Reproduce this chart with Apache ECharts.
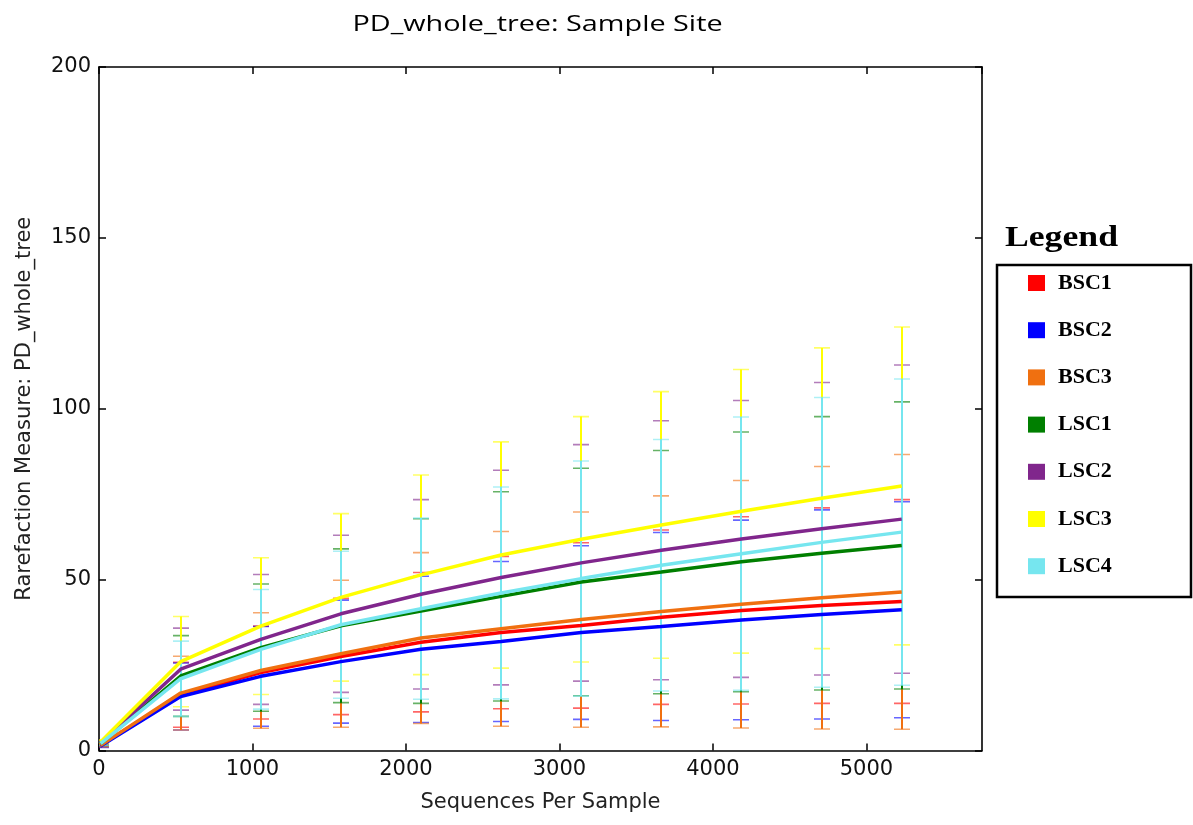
<!DOCTYPE html>
<html>
<head>
<meta charset="utf-8">
<script src="https://cdn.jsdelivr.net/npm/echarts@6/dist/echarts.min.js"></script>
<style>html,body{margin:0;padding:0;background:#fff;}#c{width:1193px;height:825px;}</style>
</head>
<body>
<div id="c"></div>
<script>
// ---- data ----
const seqs = [10, 532, 1054, 1576, 2098, 2620, 3142, 3664, 4186, 4708, 5230];
const names = ['BSC1', 'BSC2', 'BSC3', 'LSC1', 'LSC2', 'LSC3', 'LSC4'];
const colors = ['#ff0000', '#0000ff', '#f07010', '#007f00', '#80268c', '#ffff00', '#76e6ef'];

const meanBSC1 = [1.5, 16.3, 22.8, 27.5, 31.7, 34.5, 36.6, 39.0, 41.0, 42.4, 43.6];
const errBSC1  = [0.4, 9.5, 13.6, 17.0, 20.4, 22.3, 24.2, 25.5, 27.4, 28.6, 29.8];
const meanBSC2 = [1.3, 15.8, 21.7, 26.0, 29.6, 31.9, 34.5, 36.3, 38.2, 39.8, 41.2];
const errBSC2  = [0.4, 9.8, 14.6, 18.0, 21.4, 23.4, 25.4, 27.5, 29.2, 30.6, 31.6];
const meanBSC3 = [1.5, 16.8, 23.4, 28.3, 32.9, 35.6, 38.3, 40.7, 42.8, 44.7, 46.4];
const errBSC3  = [0.4, 10.8, 16.9, 21.5, 25.0, 28.5, 31.5, 33.8, 36.2, 38.4, 40.2];
const meanLSC1 = [2.0, 21.8, 30.1, 36.5, 40.8, 45.1, 49.3, 52.2, 55.2, 57.7, 60.0];
const errLSC1  = [0.5, 11.8, 18.6, 22.5, 27.0, 30.6, 33.3, 35.6, 38.0, 40.0, 42.0];
const meanLSC2 = [2.2, 23.8, 32.5, 40.0, 45.7, 50.6, 54.9, 58.6, 61.9, 64.9, 67.7];
const errLSC2  = [0.5, 12.0, 19.0, 23.0, 27.7, 31.4, 34.6, 37.9, 40.5, 42.8, 45.1];
const meanLSC3 = [2.5, 26.0, 36.4, 44.8, 51.4, 57.2, 61.8, 66.0, 70.0, 73.8, 77.4];
const errLSC3  = [0.6, 13.2, 20.0, 24.5, 29.2, 33.1, 35.9, 39.0, 41.5, 44.0, 46.5];
const meanLSC4 = [2.0, 21.0, 29.6, 36.8, 41.5, 46.1, 50.3, 54.2, 57.6, 60.9, 63.9];
const errLSC4  = [0.5, 11.0, 17.5, 21.5, 26.5, 31.0, 34.4, 36.8, 40.0, 42.4, 44.8];

const yTicks = [0, 50, 100, 150, 200];
const xTicks = [0, 1000, 2000, 3000, 4000, 5000];

const means = [meanBSC1, meanBSC2, meanBSC3, meanLSC1, meanLSC2, meanLSC3, meanLSC4];
const errs  = [errBSC1, errBSC2, errBSC3, errLSC1, errLSC2, errLSC3, errLSC4];

// ---- chart ----
const chart = echarts.init(document.getElementById('c'), null, {renderer: 'canvas'});
const tickFont = {fontFamily: 'DejaVu Sans', fontSize: 21, color: '#111'};
const axLine = {show: true, onZero: false, lineStyle: {color: '#000', width: 1.6}};
const axTick = {show: true, inside: true, length: 7, lineStyle: {color: '#000', width: 1.5}};

function errRender(color) {
  return function (params, api) {
    const x = api.value(0), lo = api.value(1), hi = api.value(2);
    const p1 = api.coord([x, lo]), p2 = api.coord([x, hi]);
    const cx = Math.round(p1[0]);
    const w = 8;
    return {
      type: 'group',
      children: [
        {type: 'line', shape: {x1: cx, y1: p1[1], x2: cx, y2: p2[1]}, style: {stroke: color, lineWidth: 2}},
        {type: 'line', shape: {x1: cx - w, y1: p1[1], x2: cx + w, y2: p1[1]}, style: {stroke: color, lineWidth: 1.6, opacity: 0.6}},
        {type: 'line', shape: {x1: cx - w, y1: p2[1], x2: cx + w, y2: p2[1]}, style: {stroke: color, lineWidth: 1.6, opacity: 0.6}}
      ]
    };
  };
}

const series = [];
names.forEach((n, i) => {
  series.push({
    name: n + ' err', type: 'custom', z: 2, clip: true,
    renderItem: errRender(colors[i]),
    data: seqs.map((x, k) => [x, means[i][k] - errs[i][k], means[i][k] + errs[i][k]]),
    silent: true
  });
});
names.forEach((n, i) => {
  series.push({
    name: n, type: 'line', z: 3, showSymbol: false, symbol: 'none',
    itemStyle: {color: colors[i]},
    lineStyle: {color: colors[i], width: 3.5},
    data: seqs.map((x, k) => [x, means[i][k]])
  });
});

const option = {
  backgroundColor: '#fff',
  animation: false,
  grid: {left: 99, right: 211, top: 67, bottom: 74.5},
  xAxis: [{
    type: 'value', min: 0, max: 5753, interval: 1000, position: 'bottom',
    axisLine: axLine, splitLine: {show: false}, axisTick: axTick,
    axisLabel: {...tickFont, margin: 9, showMaxLabel: false, formatter: v => xTicks.includes(v) ? String(v) : ''},
    name: 'Sequences Per Sample', nameLocation: 'middle', nameGap: 42,
    nameTextStyle: {fontFamily: 'DejaVu Sans', fontSize: 21, color: '#222'}
  }, {
    type: 'value', min: 0, max: 5753, interval: 1000, position: 'top',
    axisLine: axLine, splitLine: {show: false}, axisTick: axTick,
    axisLabel: {show: false}
  }],
  yAxis: [{
    type: 'value', min: 0, max: 200, interval: 50, position: 'left',
    axisLine: axLine, splitLine: {show: false}, axisTick: axTick,
    axisLabel: {...tickFont, margin: 8, formatter: v => yTicks.includes(v) ? String(v) : ''},
    name: 'Rarefaction Measure: PD_whole_tree', nameLocation: 'middle', nameGap: 64,
    nameTextStyle: {fontFamily: 'DejaVu Sans', fontSize: 21, color: '#222'}
  }, {
    type: 'value', min: 0, max: 200, interval: 50, position: 'right',
    axisLine: axLine, splitLine: {show: false}, axisTick: axTick,
    axisLabel: {show: false}
  }],
  legend: {
    data: names.map(n => ({name: n, icon: 'rect'})),
    orient: 'vertical', left: 1023, top: 267,
    itemWidth: 17, itemHeight: 16, itemGap: 25.2,
    selectedMode: false,
    textStyle: {fontFamily: 'Liberation Serif', fontWeight: 'bold', fontSize: 22, color: '#000', padding: [0, 0, 0, 8]}
  },
  graphic: [
    {type: 'rect', shape: {x: 997, y: 265, width: 194, height: 332}, style: {fill: 'none', stroke: '#000', lineWidth: 2.5}, z: 10},
    {type: 'text', x: 1005, y: 239, scaleX: 1.23, style: {text: 'Legend', fontFamily: 'Liberation Serif', fontWeight: 'bold', fontSize: 29, fill: '#000', textAlign: 'left', textVerticalAlign: 'middle'}},
    {type: 'text', x: 537.5, y: 25, scaleX: 1.28, style: {text: 'PD_whole_tree: Sample Site', fontFamily: 'Open Sans', fontSize: 22.5, fill: '#000', textAlign: 'center', textVerticalAlign: 'middle'}}
  ],
  series: series
};
chart.setOption(option);
</script>
</body>
</html>
